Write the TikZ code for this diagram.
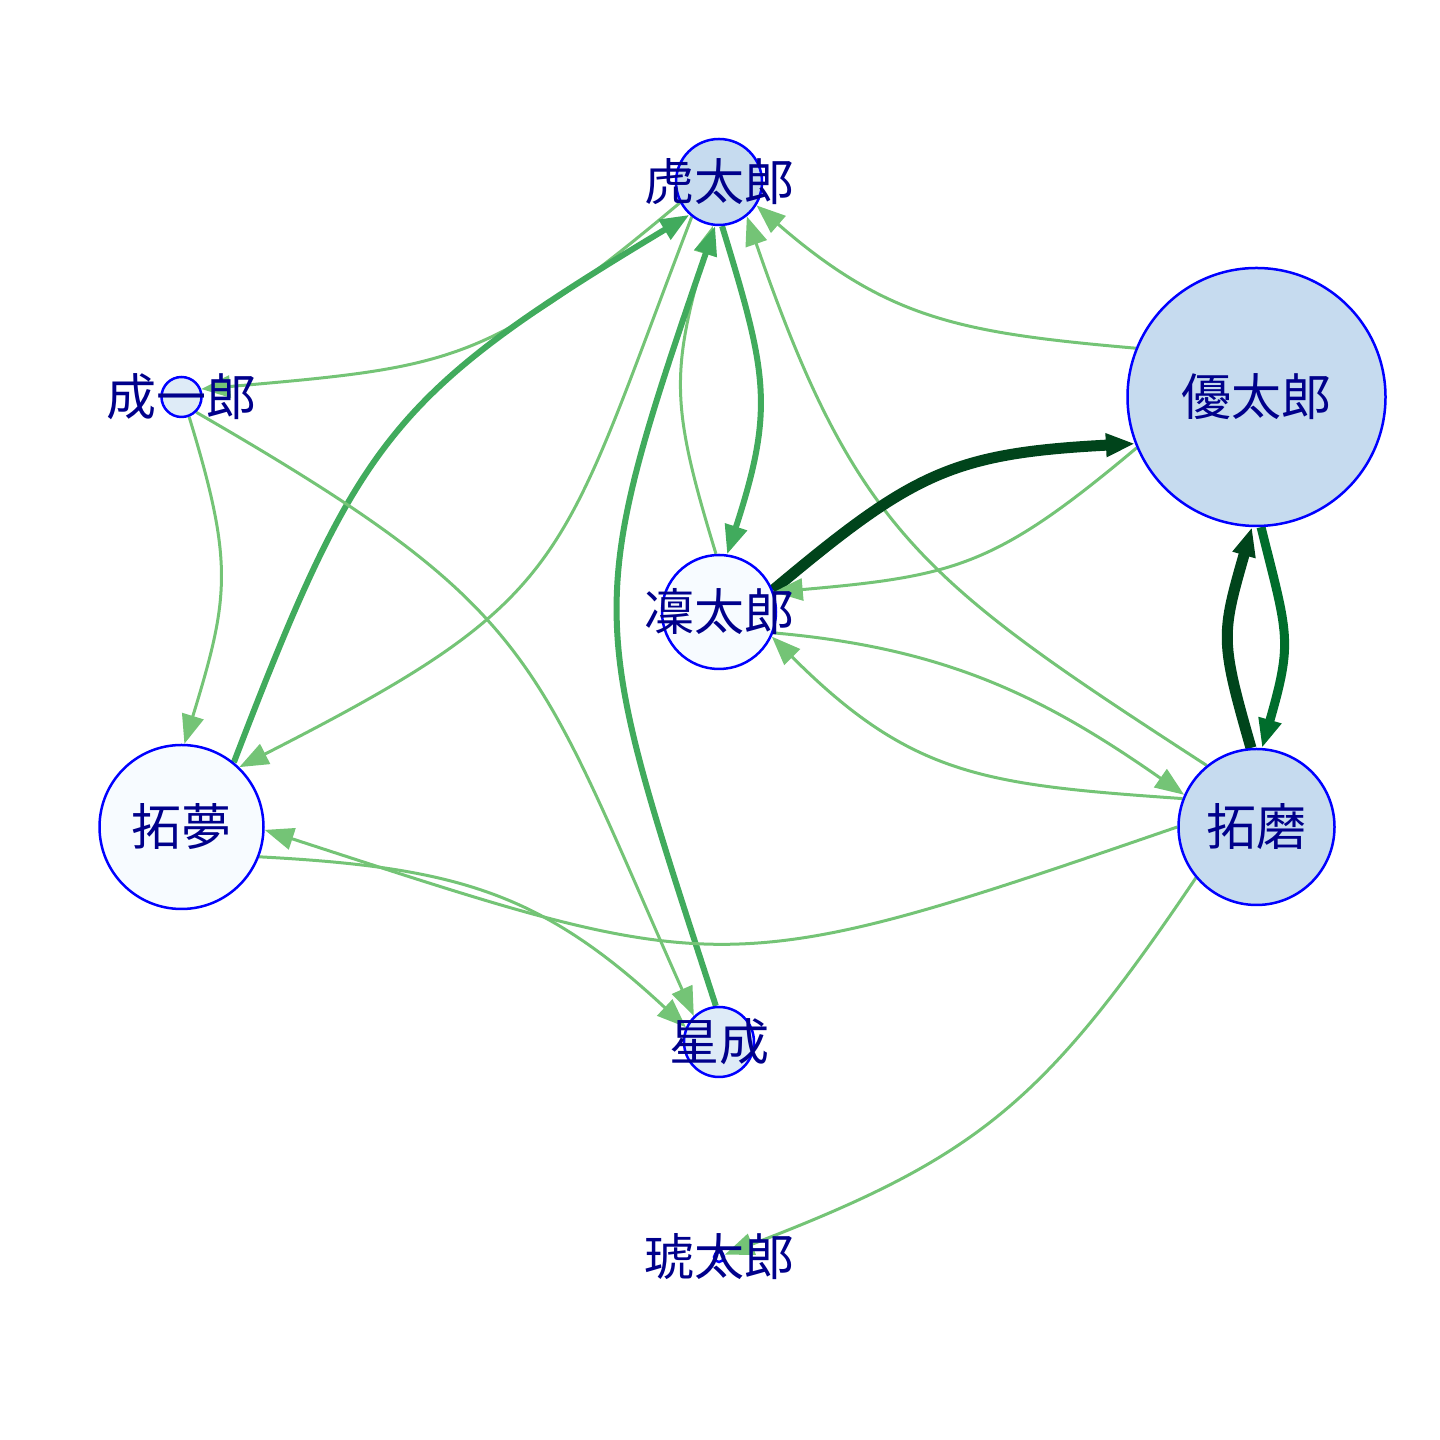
\documentclass[tikz,border=0pt]{standalone}
\usepackage{fontspec}
\newfontfamily\jpfont{Noto Sans CJK JP}
\usetikzlibrary{positioning,arrows.meta,backgrounds}
\definecolor{gr_a}{HTML}{74C476}
\definecolor{gr_b}{HTML}{41AB5D}
\definecolor{gr_c}{HTML}{006D2C}
\definecolor{gr_d}{HTML}{00441B}
\definecolor{bl_a}{HTML}{F7FBFF}
\definecolor{bl_b}{HTML}{DEEBF7}
\definecolor{bl_c}{HTML}{C6DBEF}
\definecolor{namecol}{HTML}{00008B}

\begin{document}
\begin{tikzpicture}[x=1pt,y=1pt,node distance=215pt and 537.5pt,on grid,
  >={Triangle[length=29pt,width=22pt]},
  person/.style={circle,draw=blue,line width=2.5pt,inner sep=0pt},
  every label/.style={font=\jpfont\fontsize{50}{50}\selectfont,text=namecol,inner sep=0pt},
  light/.style={draw=gr_a,line width=3pt},
  mid/.style={draw=gr_b,line width=6pt},
  dark/.style={draw=gr_c,line width=9pt},
  darkest/.style={draw=gr_d,line width=11pt}]
 \useasboundingbox (0,0) rectangle (1440,1440);
 \node[person,fill=bl_c,minimum size=86pt,label=center:虎太郎] (n_tora) at (719,1258) {};
 \node[person,fill=bl_b,minimum size=40pt,label=center:成一郎] (n_sei) [below left=of n_tora] {};
 \node[person,fill=bl_c,minimum size=258pt,label=center:優太郎] (n_yu) [below right=of n_tora] {};
 \node[person,fill=bl_a,minimum size=114pt,label=center:凜太郎] (n_rin) [below right=of n_sei] {};
 \node[person,fill=bl_a,minimum size=164pt,label=center:拓夢] (n_yume) [below left=of n_rin] {};
 \node[person,fill=bl_c,minimum size=156pt,label=center:拓磨] (n_taku) [below right=of n_rin] {};
 \node[person,fill=bl_b,minimum size=70pt,label=center:星成] (n_hoshi) [below right=of n_yume] {};
 \node[person,fill=bl_a,minimum size=10pt,label=center:琥太郎] (n_ko) [below=of n_hoshi] {};
 \begin{scope}[on background layer]
 \path[->]
  (n_tora.208) edge [light,out=220,in=5,looseness=1.25] (n_sei.22)
  (n_yume.51) edge [mid,out=69,in=211,looseness=1.25] (n_tora.228)
  (n_tora.232) edge [light,out=249,in=27,looseness=1.35] (n_yume.46)
  (n_sei.-69) edge [light,out=-73,in=73,looseness=1.2] (n_yume.88)
  (n_sei.-46) edge [light,out=-30,in=114,looseness=1.3] (n_hoshi.134)
  (n_tora.-86) edge [mid,out=-73,in=72,looseness=1.2] (n_rin.82)
  (n_rin.93) edge [light,out=107,in=254,looseness=1.2] (n_tora.-98)
  (n_hoshi.95) edge [mid,out=108,in=251,looseness=1.35] (n_tora.-95)
  (n_yu.158) edge [light,out=175,in=-41,looseness=1.1] (n_tora.-32)
  (n_taku.129) edge [light,out=147,in=-71,looseness=1.2] (n_tora.-51)
  (n_rin.-21) edge [light,out=-5,in=145] (n_taku.156)
  (n_taku.159) edge [light,out=176,in=-45,looseness=1.15] (n_rin.-25)
  (n_rin.22) edge [darkest,out=40,in=183,looseness=1.2] (n_yu.201)
  (n_yu.203) edge [light,out=220,in=5,looseness=1.2] (n_rin.20)
  (n_yu.-88) edge [dark,out=-76,in=74,looseness=1.3] (n_taku.86)
  (n_taku.94) edge [darkest,out=106,in=254,looseness=1.3] (n_yu.-92)
  (n_taku.180) edge [light,out=199,in=-18,looseness=1.35] (n_yume.-2)
  (n_yume.-21) edge [light,out=-3,in=137,looseness=1.1] (n_hoshi.156)
  (n_taku.220) edge [light,out=236,in=21,looseness=1.15] (n_ko.22);
 \end{scope}
\end{tikzpicture}
\end{document}
